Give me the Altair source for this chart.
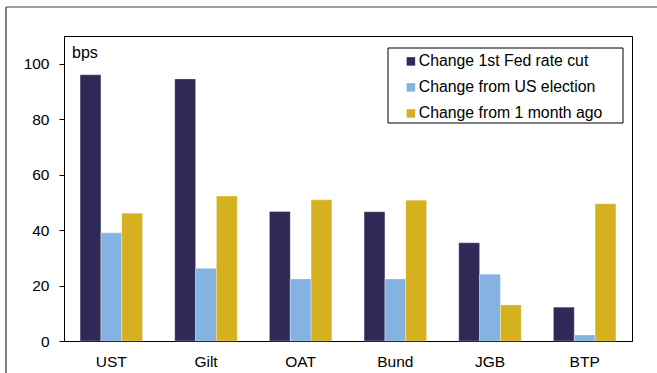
import altair as alt
import pandas as pd

countries = ["UST", "Gilt", "OAT", "Bund", "JGB", "BTP"]
series = ["Change 1st Fed rate cut", "Change from US election", "Change from 1 month ago"]
fed_cut = [96.0, 94.5, 46.7, 46.6, 35.4, 12.2]
us_election = [39.0, 26.2, 22.4, 22.4, 24.1, 2.2]
one_month = [46.1, 52.3, 50.9, 50.8, 13.0, 49.5]
colors = ["#2E2957", "#84B3E2", "#D5B11F"]
y_ticks = [0, 20, 40, 60, 80, 100]

rows = []
for vals, s in zip([fed_cut, us_election, one_month], series):
    for c, v in zip(countries, vals):
        rows.append({"country": c, "series": s, "value": v})
df = pd.DataFrame(rows)

FONT = "Liberation Sans"

bars = alt.Chart(df).mark_bar(stroke="white", strokeWidth=0.6, strokeOpacity=0.5).encode(
    x=alt.X("country:N", sort=countries, title=None,
            scale=alt.Scale(paddingInner=0.34, paddingOuter=0.17),
            axis=alt.Axis(labelAngle=0, ticks=False, tickSize=0, labelPadding=13,
                          labelFontSize=15.5, labelFont=FONT, labelColor="black",
                          domainColor="black")),
    xOffset=alt.XOffset("series:N", sort=series,
                        scale=alt.Scale(paddingInner=0, paddingOuter=0)),
    y=alt.Y("value:Q", title=None,
            scale=alt.Scale(domain=[0, 110], nice=False),
            axis=alt.Axis(values=y_ticks, grid=False, tickSize=5, labelPadding=10,
                          labelFontSize=15.5, labelFont=FONT, labelColor="black",
                          domainColor="black", tickColor="black")),
    color=alt.Color("series:N", sort=series,
                    scale=alt.Scale(domain=series, range=colors),
                    legend=alt.Legend(title=None, orient="none", legendX=334, legendY=12.5,
                                      symbolType="square", symbolSize=72, symbolStrokeWidth=0,
                                      labelFontSize=15.8, labelFont=FONT, labelColor="black",
                                      labelLimit=0,
                                      rowPadding=9, padding=5, labelOffset=0)),
)

frame_df = pd.DataFrame({"a": [0]})
legend_box = alt.Chart(frame_df).mark_rect(fill="white", stroke="black", strokeWidth=1).encode(
    x=alt.value(324), x2=alt.value(559), y=alt.value(12), y2=alt.value(87)
)
bps = alt.Chart(frame_df).mark_text(text="bps", align="left", baseline="alphabetic",
                                     fontSize=16, font=FONT, color="black").encode(
    x=alt.value(8), y=alt.value(22)
)
left_line = alt.Chart(frame_df).mark_rule(color="#808080", strokeWidth=2).encode(
    x=alt.value(-58), y=alt.value(-29), y2=alt.value(340)
)
top_line = alt.Chart(frame_df).mark_rule(color="#404040", strokeWidth=1).encode(
    x=alt.value(-58), x2=alt.value(600), y=alt.value(-29)
)

chart = alt.layer(left_line, top_line, legend_box, bps, bars).properties(
    width=568, height=305,
    autosize=alt.AutoSizeParams(type="none"),
    padding={"left": 64, "top": 36, "right": 25, "bottom": 32},
    background="white",
).configure_view(stroke="black", strokeWidth=1)

chart.save("out.html", embed_options={"renderer": "svg", "actions": False})
